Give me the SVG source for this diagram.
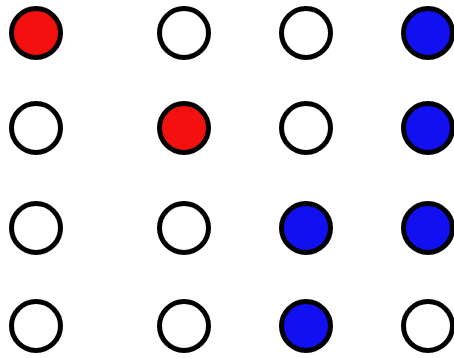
<svg xmlns="http://www.w3.org/2000/svg" width="454" height="358" viewBox="0 0 454 358">
<style>
circle{stroke:#000;stroke-width:5}
.w{fill:#fff}
.r{fill:#f51010}
.b{fill:#1010f0}
</style>
<rect width="454" height="358" fill="#fff"/>
<g id="n11"><circle class="r" cx="36" cy="33" r="24.5"/></g>
<g id="n12"><circle class="w" cx="184" cy="33" r="24.5"/></g>
<g id="n13"><circle class="w" cx="306" cy="33" r="24.5"/></g>
<g id="n14"><circle class="b" cx="428" cy="33" r="24.5"/></g>
<g id="n21"><circle class="w" cx="36" cy="128" r="24.5"/></g>
<g id="n22"><circle class="r" cx="184" cy="128" r="24.5"/></g>
<g id="n23"><circle class="w" cx="306" cy="128" r="24.5"/></g>
<g id="n24"><circle class="b" cx="428" cy="128" r="24.5"/></g>
<g id="n31"><circle class="w" cx="36" cy="228" r="24.5"/></g>
<g id="n32"><circle class="w" cx="184" cy="228" r="24.5"/></g>
<g id="n33"><circle class="b" cx="306" cy="228" r="24.5"/></g>
<g id="n34"><circle class="b" cx="428" cy="228" r="24.5"/></g>
<g id="n41"><circle class="w" cx="36" cy="326" r="24.5"/></g>
<g id="n42"><circle class="w" cx="184" cy="326" r="24.5"/></g>
<g id="n43"><circle class="b" cx="306" cy="326" r="24.5"/></g>
<g id="n44"><circle class="w" cx="428" cy="326" r="24.5"/></g>
<g id="connectors"></g>
</svg>
